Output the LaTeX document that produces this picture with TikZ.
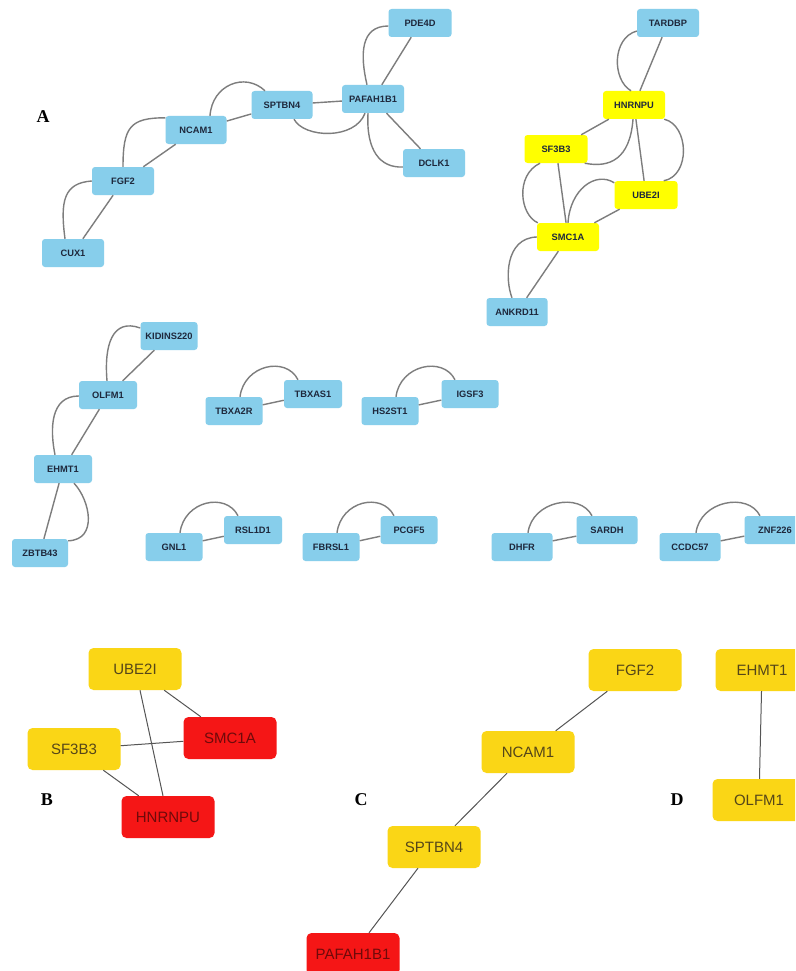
\documentclass[tikz,border=0pt]{standalone}
\usepackage{fontspec}
\setmainfont{Liberation Sans}
\newfontfamily\labelfont{Liberation Serif}
\usetikzlibrary{calc}
\definecolor{nodeblue}{RGB}{135,206,235}
\definecolor{topyellow}{RGB}{255,255,0}
\definecolor{goldy}{RGB}{250,214,22}
\definecolor{redn}{RGB}{245,22,22}
\definecolor{textdark}{RGB}{30,40,60}
\definecolor{txtgray}{RGB}{85,70,25}
\definecolor{txtred}{RGB}{110,10,10}
\definecolor{edgegray}{RGB}{125,125,125}
\definecolor{bedgegray}{RGB}{85,85,85}
\begin{document}
\begin{tikzpicture}[x=1pt,y=-1pt,
 bn/.style={rectangle, rounded corners=3pt, fill=nodeblue, draw=none, minimum width=62pt, minimum height=28pt, inner sep=0pt, font=\bfseries\fontsize{9.3}{10}\selectfont, text=textdark},
 yn/.style={bn, fill=topyellow},
 big/.style={rectangle, rounded corners=5pt, draw=none, minimum width=93pt, minimum height=42pt, inner sep=0pt, font=\fontsize{15}{17}\selectfont},
 gn/.style={big, fill=goldy, text=txtgray},
 rn/.style={big, fill=redn, text=txtred},
 edge/.style={draw=edgegray, line width=1.4pt},
 bedge/.style={draw=bedgegray, line width=1pt},
 panel/.style={font=\labelfont\bfseries\fontsize{18}{20}\selectfont, inner sep=0pt}
]
\useasboundingbox (0,0) rectangle (795,971);
\fill[white] (0,0) rectangle (795,971);
\clip (0,0) rectangle (795,971);

% ---------- panel labels
\node[panel] (lA) at (43,117) {A};
\node[panel] (lB) at (47,800) {B};
\node[panel] (lC) at (361,800) {C};
\node[panel] (lD) at (677,800) {D};

% ---------- A: top-left cluster
\node[bn, minimum width=63pt] (pde) at (420,23) {PDE4D};
\node[bn] (paf) at (373,99) {PAFAH1B1};
\node[bn, minimum width=61pt] (spt) at (282,105) {SPTBN4};
\node[bn, minimum width=61pt] (ncam) at (196,130) {NCAM1};
\node[bn] (fgf) at (123,181) {FGF2};
\node[bn] (cux) at (73,253) {CUX1};
\node[bn] (dclk) at (434,163) {DCLK1};

\draw[edge] (cux) -- (fgf);
\draw[edge] ($(cux.north)+(-8,0)$) .. controls +(-5,-38) and +(-28,2) .. (fgf.west);
\draw[edge] (fgf) -- (ncam);
\draw[edge] (fgf.north) .. controls +(0,-40) and +(-35,0) .. ($(ncam.north west)+(0,2)$);
\draw[edge] (ncam) -- (spt);
\draw[edge] ($(ncam.north)+(14,0)$) .. controls +(2,-31) and +(-20,-19) .. ($(spt.north)+(-17,0)$);
\draw[edge] (spt) -- (paf);
\draw[edge] ($(spt.south)+(12,0)$) .. controls +(10,19) and +(-10,27) .. ($(paf.south)+(-8,0)$);
\draw[edge] (paf) -- (pde);
\draw[edge] ($(paf.north)+(-6,0)$) .. controls +(-7,-30) and +(-28,0) .. ($(pde.west)+(0,3)$);
\draw[edge] (paf) -- (dclk);
\draw[edge] ($(paf.south)+(-5,0)$) .. controls +(-2,37) and +(-23,1) .. ($(dclk.west)+(0,4)$);

% ---------- A: top-right cluster
\node[bn] (tard) at (668,23) {TARDBP};
\node[yn] (hnr) at (634,105) {HNRNPU};
\node[yn, minimum width=63pt] (sf3) at (556,149) {SF3B3};
\node[yn, minimum width=63pt] (ube) at (646,195) {UBE2I};
\node[yn] (smc) at (568,237) {SMC1A};
\node[bn, minimum width=61pt] (ank) at (517,312) {ANKRD11};

\draw[edge] (tard) -- (hnr);
\draw[edge] ($(tard.west)+(0,8)$) .. controls +(-25,7) and +(-19,-11) .. ($(hnr.north)+(-3,0)$);
\draw[edge] (hnr) -- (sf3);
\draw[edge] ($(hnr.south)+(-1,0)$) .. controls +(-3,40) and +(25,5) .. ($(sf3.south east)+(-3,0)$);
\draw[edge] (hnr) -- (ube);
\draw[edge] ($(hnr.south east)+(-1,0)$) .. controls +(25,6) and +(27,-5) .. ($(ube.north east)+(-14,0)$);
\draw[edge] (sf3) -- (smc);
\draw[edge] ($(sf3.south)+(-16,0)$) .. controls +(-25,12) and +(-18,-8) .. ($(smc.north west)+(1,0)$);
\draw[edge] (ube) -- (smc);
\draw[edge] (smc.north) .. controls +(2,-33) and +(-19,-12) .. ($(ube.north west)+(0,2)$);
\draw[edge] (smc) -- (ank);
\draw[edge] (smc.west) .. controls +(-32,1) and +(-7,-18) .. ($(ank.north)+(-5,0)$);

% ---------- A: middle chain
\node[bn, minimum width=57pt] (kid) at (169,336) {KIDINS220};
\node[bn, minimum width=58pt] (olf) at (108,395) {OLFM1};
\node[bn, minimum width=58pt] (ehm) at (63,469) {EHMT1};
\node[bn, minimum width=56pt] (zbt) at (40,553) {ZBTB43};

\draw[edge] (kid) -- (olf);
\draw[edge] ($(kid.west)+(0,-8)$) .. controls +(-28,-10) and +(-3,-36) .. ($(olf.north)+(-1,0)$);
\draw[edge] (olf) -- (ehm);
\draw[edge] ($(olf.west)+(0,1)$) .. controls +(-29,0) and +(-5,-25) .. ($(ehm.north)+(-8,0)$);
\draw[edge] (ehm) -- (zbt);
\draw[edge] ($(ehm.south)+(11,0)$) .. controls +(16,17) and +(30,-1) .. ($(zbt.north east)+(0,2)$);

% ---------- A: pairs
\node[bn, minimum width=57pt] (tbr) at (234,411) {TBXA2R};
\node[bn, minimum width=58pt] (tbs) at (313,394) {TBXAS1};
\node[bn, minimum width=57pt] (hs2) at (390,411) {HS2ST1};
\node[bn, minimum width=57pt] (igs) at (470,394) {IGSF3};
\node[bn, minimum width=57pt] (gnl) at (174,547) {GNL1};
\node[bn, minimum width=58pt] (rsl) at (253,530) {RSL1D1};
\node[bn, minimum width=57pt] (fbr) at (331,547) {FBRSL1};
\node[bn, minimum width=57pt] (pcg) at (409,530) {PCGF5};
\node[bn, minimum width=61pt] (dhf) at (522,547) {DHFR};
\node[bn, minimum width=61pt] (sar) at (607,530) {SARDH};
\node[bn, minimum width=61pt] (ccd) at (690,547) {CCDC57};
\node[bn, minimum width=61pt] (znf) at (775,530) {ZNF226};

\foreach \l/\r in {tbr/tbs, hs2/igs, gnl/rsl, fbr/pcg, dhf/sar, ccd/znf}{
  \draw[edge] (\l) -- (\r);
  \draw[edge] ($(\l.north)+(6,0)$) .. controls +(4,-32) and +(-12,-24) .. ($(\r.north)+(-15,0)$);
}

% ---------- B
\node[gn] (ube2) at (135,669) {UBE2I};
\node[rn] (smc2) at (230,738) {SMC1A};
\node[gn] (sf32) at (74,749) {SF3B3};
\node[rn] (hnr2) at (168,817) {HNRNPU};
\draw[bedge] (ube2) -- (smc2);
\draw[bedge] ($(ube2.south)+(5,0)$) -- ($(hnr2.north)+(-5,0)$);
\draw[bedge] (sf32) -- (smc2);
\draw[bedge] (sf32) -- (hnr2);

% ---------- C
\node[gn] (fgf2) at (635,670) {FGF2};
\node[gn] (ncam2) at (528,752) {NCAM1};
\node[gn] (spt2) at (434,847) {SPTBN4};
\node[rn] (paf2) at (353,954) {PAFAH1B1};
\draw[bedge] (fgf2) -- (ncam2);
\draw[bedge] (ncam2) -- (spt2);
\draw[bedge] (spt2) -- (paf2);

% ---------- D
\node[gn] (ehm2) at (762,670) {EHMT1};
\node[gn] (olf2) at (759,800) {OLFM1};
\draw[bedge] (ehm2) -- (olf2);
\end{tikzpicture}
\end{document}
